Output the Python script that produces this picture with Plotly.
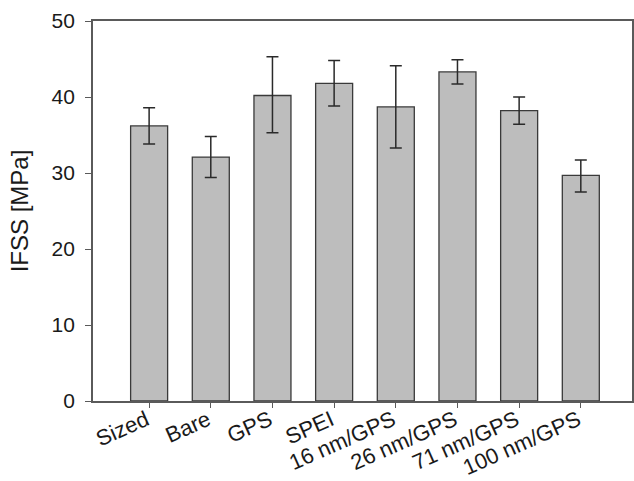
import plotly.graph_objects as go

categories = ["Sized", "Bare", "GPS", "SPEI", "16 nm/GPS", "26 nm/GPS", "71 nm/GPS", "100 nm/GPS"]
ifss = [36.2, 32.1, 40.2, 41.8, 38.7, 43.3, 38.2, 29.7]
err_plus = [2.4, 2.7, 5.1, 3.0, 5.4, 1.6, 1.8, 2.0]
err_minus = [2.4, 2.7, 4.9, 3.0, 5.4, 1.6, 1.8, 2.2]
y_ticks = [0, 10, 20, 30, 40, 50]

fig = go.Figure()
fig.add_trace(go.Bar(
    x=list(range(len(categories))),
    y=ifss,
    width=0.6,
    marker=dict(color="#bdbdbd", line=dict(color="#3a3a3a", width=1.3)),
    error_y=dict(type="data", array=err_plus, arrayminus=err_minus, symmetric=False,
                 color="#2a2a2a", thickness=1.5, width=6),
    showlegend=False,
))

xtick_font = dict(family="Liberation Sans, Arial, sans-serif", size=22, color="#1a1a1a")
ytick_font = dict(family="Liberation Sans, Arial, sans-serif", size=21, color="#1a1a1a")
title_font = dict(family="Liberation Sans, Arial, sans-serif", size=24, color="#1a1a1a")

fig.update_layout(
    width=634, height=481,
    margin=dict(l=93, r=2, t=21, b=80, autoexpand=False),
    plot_bgcolor="white", paper_bgcolor="white",
    font=ytick_font,
)
fig.update_xaxes(
    tickmode="array",
    tickvals=list(range(len(categories))),
    ticktext=categories,
    tickangle=-24,
    range=[-0.91, 7.83],
    showline=True, linecolor="#5a5a5a", linewidth=1.8, mirror=True,
    ticks="outside", ticklen=5, tickwidth=1.3, tickcolor="#5a5a5a",
    showgrid=False, zeroline=False, automargin=False,
    ticklabelstandoff=-9, ticklabelshift=-3,
    tickfont=xtick_font,
)
fig.update_yaxes(
    range=[0, 50],
    tickmode="array", tickvals=y_ticks,
    showline=True, linecolor="#5a5a5a", linewidth=1.8, mirror=True,
    ticks="outside", ticklen=6, tickwidth=1.3, tickcolor="#5a5a5a",
    showgrid=False, zeroline=False, automargin=False,
    ticklabelstandoff=6,
    title=dict(text="IFSS [MPa]", font=title_font, standoff=16),
    tickfont=ytick_font,
)

fig.write_html("out.html", config={"displayModeBar": False},
               post_script="document.body.style.margin='0px';document.body.style.overflow='hidden';")
